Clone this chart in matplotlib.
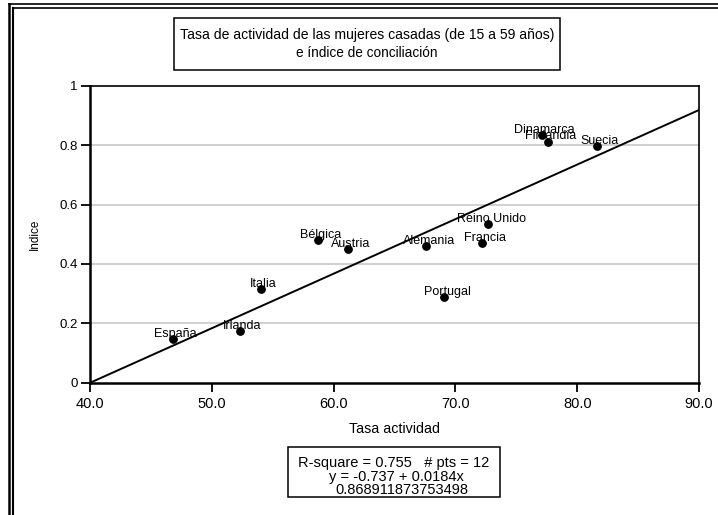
import matplotlib
matplotlib.use("Agg")
import matplotlib.pyplot as plt
from matplotlib.patches import Rectangle
from matplotlib.lines import Line2D

plt.rcParams['font.family'] = ['Liberation Sans', 'DejaVu Sans']

countries = ["España", "Irlanda", "Italia", "Bélgica", "Austria", "Alemania",
             "Portugal", "Francia", "Reino Unido", "Dinamarca", "Finlandia", "Suecia"]
tasa = [46.8, 52.3, 54.0, 58.7, 61.2, 67.6, 69.1, 72.2, 72.7, 77.1, 77.6, 81.6]
indice = [0.147, 0.174, 0.315, 0.481, 0.450, 0.461, 0.287, 0.469, 0.535, 0.835, 0.812, 0.798]
intercept = -0.737
slope = 0.0184
x_ticks = [40, 50, 60, 70, 80, 90]
y_ticks = [0, 0.2, 0.4, 0.6, 0.8, 1.0]
y_tick_labels = ["0", "0.2", "0.4", "0.6", "0.8", "1"]

W, H = 718, 515
fig = plt.figure(figsize=(W / 100, H / 100), dpi=100)

def fx(px):
    return px / W

def fy(py):
    return 1 - py / H

ax = fig.add_axes([fx(90), fy(382.5), fx(699) - fx(90), fy(86) - fy(382.5)])
ax.set_xlim(40, 90)
ax.set_ylim(0, 1)

for yv in y_ticks[1:-1]:
    ax.axhline(yv, color="#cdcdcd", lw=1.3, zorder=0)

xl = [40, 90]
ax.plot(xl, [intercept + slope * v for v in xl], color="black", lw=1.4, zorder=2)
ax.scatter(tasa, indice, s=28, color="black", zorder=3)
for name, xv, yv in zip(countries, tasa, indice):
    ax.annotate(name, (xv, yv), xytext=(2, 3.8), textcoords="offset points",
                ha="center", va="center", fontsize=9, zorder=4)

ax.set_xticks(x_ticks)
ax.set_xticklabels([f"{v:.1f}" for v in x_ticks])
ax.set_yticks(y_ticks)
ax.set_yticklabels(y_tick_labels)
ax.tick_params(axis="both", direction="out", length=6.5, width=1.3, labelsize=9.5, pad=2.5)
ax.tick_params(axis="x", pad=4, labelsize=10.5)
for side in ["left", "bottom"]:
    ax.spines[side].set_linewidth(1.8)
for side in ["top", "right"]:
    ax.spines[side].set_linewidth(1.2)

ax.set_xlabel("Tasa actividad", fontsize=10.3, labelpad=8)
ax.set_ylabel("Indice", fontsize=8.5, labelpad=13)

# Title box
fig.add_artist(Rectangle((fx(174), fy(69.5)), fx(560) - fx(174), fy(18.3) - fy(69.5),
                         transform=fig.transFigure, fill=False, ec="black", lw=1.1))
fig.text(fx(367), fy(35), "Tasa de actividad de las mujeres casadas (de 15 a 59 años)",
         ha="center", va="center", fontsize=10.1)
fig.text(fx(367), fy(53), "e índice de conciliación", ha="center", va="center", fontsize=9.8)

# Stats box
fig.add_artist(Rectangle((fx(287.5), fy(496.5)), fx(499.5) - fx(287.5), fy(447) - fy(496.5),
                         transform=fig.transFigure, fill=False, ec="black", lw=1.1))
r2 = 0.755
npts = len(tasa)
r_val = 0.868911873753498
fig.text(fx(393.5), fy(462.5), f"R-square = {r2:.3f}   # pts = {npts}", ha="center", va="center", fontsize=10.5)
fig.text(fx(396), fy(476.5), f"y = {intercept:.3f} + {slope:.4f}x", ha="center", va="center", fontsize=10.5)
fig.text(fx(401.5), fy(490.5), f"{r_val}", ha="center", va="center", fontsize=10.5)

# Outer double frame (cropped at right and bottom)
for (x0, y0) in [(8.5, 4.0), (13.0, 7.8)]:
    fig.add_artist(Line2D([fx(x0), fx(x0)], [fy(y0), fy(H + 5)], transform=fig.transFigure,
                          color="black", lw=1.5 if x0 > 10 else 1.8))
    fig.add_artist(Line2D([fx(x0), fx(W + 5)], [fy(y0), fy(y0)], transform=fig.transFigure,
                          color="black", lw=1.2))

fig.savefig("out.png", dpi=100)
